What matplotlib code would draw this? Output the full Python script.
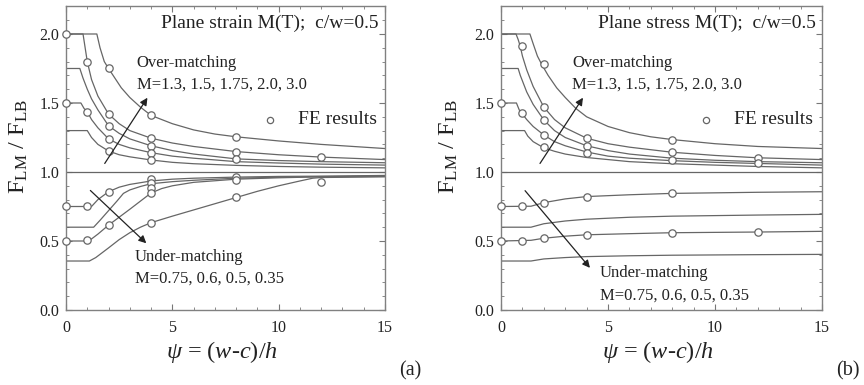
import matplotlib
matplotlib.use("Agg")
import matplotlib.pyplot as plt
from matplotlib.ticker import MultipleLocator

plt.rcParams['font.family'] = ['Liberation Serif', 'DejaVu Serif']
plt.rcParams['mathtext.fontset'] = 'custom'
plt.rcParams['mathtext.rm'] = 'Liberation Serif'
plt.rcParams['mathtext.it'] = 'Liberation Serif:italic'

# ---------------- (a) plane strain ----------------
strain_over_psi = [
    [0, 1.45, 1.6, 1.8, 2.0, 2.3, 2.6, 3.0, 3.5, 4, 5, 6, 7, 8, 10, 12, 15],
    [0, 0.8, 0.9, 1.0, 1.2, 1.5, 2.0, 2.5, 3, 4, 5, 6, 8, 10, 12, 15],
    [0, 0.65, 0.8, 1.0, 1.2, 1.5, 2, 2.5, 3, 4, 5, 6, 8, 10, 12, 15],
    [0, 0.7, 0.85, 1.0, 1.2, 1.5, 2, 2.5, 3, 4, 5, 6, 8, 10, 12, 15],
    [0, 1.0, 1.2, 1.5, 2, 2.5, 3, 4, 5, 6, 8, 10, 12, 15],
]
strain_over_F = [
    [2.0, 2.0, 1.90, 1.80, 1.75, 1.68, 1.61, 1.54, 1.47, 1.41, 1.35, 1.305, 1.275, 1.255, 1.225, 1.20, 1.17],
    [2.0, 2.0, 1.90, 1.80, 1.67, 1.55, 1.42, 1.35, 1.30, 1.245, 1.21, 1.185, 1.148, 1.125, 1.108, 1.09],
    [1.75, 1.75, 1.68, 1.60, 1.53, 1.45, 1.335, 1.28, 1.24, 1.19, 1.155, 1.13, 1.095, 1.083, 1.075, 1.067],
    [1.5, 1.5, 1.46, 1.437, 1.38, 1.32, 1.24, 1.20, 1.175, 1.14, 1.115, 1.10, 1.075, 1.065, 1.057, 1.05],
    [1.3, 1.3, 1.25, 1.20, 1.152, 1.125, 1.11, 1.087, 1.07, 1.06, 1.048, 1.04, 1.035, 1.03],
]
strain_under_psi = [
    [0, 1.2, 1.5, 2, 2.5, 3, 4, 5, 6, 8, 10, 12, 15],
    [0, 1.3, 1.6, 2, 2.4, 2.7, 3, 3.5, 4, 5, 6, 8, 10, 12, 15],
    [0, 1.0, 1.2, 1.5, 2, 3, 4, 4.5, 5, 6, 8, 10, 12, 15],
    [0, 1.1, 1.4, 2, 2.5, 3, 3.5, 4, 5, 6, 7, 8, 9, 10, 11, 11.6, 12, 15],
]
strain_under_F = [
    [0.75, 0.75, 0.80, 0.857, 0.89, 0.91, 0.935, 0.948, 0.955, 0.963, 0.968, 0.97, 0.975],
    [0.6, 0.6, 0.65, 0.72, 0.79, 0.845, 0.87, 0.895, 0.915, 0.93, 0.94, 0.955, 0.962, 0.967, 0.97],
    [0.5, 0.5, 0.515, 0.55, 0.615, 0.73, 0.848, 0.88, 0.90, 0.925, 0.948, 0.958, 0.965, 0.968],
    [0.355, 0.355, 0.38, 0.45, 0.51, 0.56, 0.60, 0.633, 0.68, 0.725, 0.77, 0.815, 0.86, 0.90, 0.935, 0.955, 0.96, 0.965],
]
strain_fe_psi = [0, 0, 1, 1, 2, 2, 2, 2, 2, 4, 4, 4, 4, 4, 8, 8, 8, 12,
                 0, 0, 1, 1, 2, 2, 4, 4, 4, 4, 4, 8, 8, 8, 12]
strain_fe_F = [2.0, 1.5, 1.80, 1.437, 1.755, 1.42, 1.333, 1.237, 1.152, 1.41, 1.244, 1.19, 1.14, 1.087,
               1.256, 1.147, 1.094, 1.106,
               0.75, 0.5, 0.75, 0.507, 0.857, 0.616, 0.95, 0.922, 0.882, 0.845, 0.633, 0.966, 0.942, 0.821, 0.93]

# ---------------- (b) plane stress ----------------
stress_over_psi = [
    [0, 1.35, 1.5, 1.7, 1.9, 2.2, 2.6, 3, 3.5, 4, 5, 6, 7, 8, 10, 12, 15],
    [0, 0.7, 0.8, 0.9, 1.0, 1.2, 1.5, 2, 2.5, 3, 4, 5, 6, 8, 10, 12, 15],
    [0, 0.8, 0.9, 1.0, 1.2, 1.5, 2, 2.5, 3, 4, 5, 6, 8, 10, 12, 15],
    [0, 0.72, 0.85, 1.0, 1.2, 1.5, 2, 2.5, 3, 4, 5, 6, 8, 10, 12, 15],
    [0, 1.1, 1.25, 1.5, 2, 2.5, 3, 4, 5, 6, 8, 10, 12, 15],
]
stress_over_F = [
    [2.0, 2.0, 1.93, 1.84, 1.78, 1.70, 1.61, 1.54, 1.46, 1.40, 1.33, 1.285, 1.255, 1.235, 1.205, 1.185, 1.17],
    [2.0, 2.0, 1.96, 1.91, 1.84, 1.74, 1.62, 1.47, 1.38, 1.32, 1.245, 1.205, 1.18, 1.143, 1.12, 1.103, 1.09],
    [1.75, 1.75, 1.70, 1.66, 1.58, 1.49, 1.377, 1.30, 1.25, 1.19, 1.155, 1.13, 1.10, 1.085, 1.075, 1.067],
    [1.5, 1.5, 1.45, 1.42, 1.38, 1.33, 1.268, 1.22, 1.19, 1.145, 1.115, 1.10, 1.082, 1.07, 1.062, 1.05],
    [1.3, 1.3, 1.26, 1.22, 1.175, 1.15, 1.13, 1.105, 1.09, 1.075, 1.06, 1.05, 1.04, 1.03],
]
stress_under_psi = [
    [0, 1.4, 2, 3, 4, 6, 8, 12, 15],
    [0, 1.4, 2, 3, 4, 6, 8, 12, 15],
    [0, 1.4, 2, 3, 4, 6, 8, 12, 15],
    [0, 1.4, 2, 3, 4, 6, 8, 12, 15],
]
stress_under_F = [
    [0.75, 0.752, 0.778, 0.805, 0.822, 0.835, 0.845, 0.853, 0.857],
    [0.6, 0.6, 0.625, 0.645, 0.658, 0.672, 0.68, 0.688, 0.693],
    [0.5, 0.505, 0.52, 0.535, 0.545, 0.553, 0.56, 0.565, 0.57],
    [0.355, 0.355, 0.37, 0.38, 0.387, 0.393, 0.397, 0.401, 0.403],
]
stress_fe_psi = [0, 1, 1, 2, 2, 2, 2, 2, 4, 4, 4, 8, 8, 8, 12, 12,
                 0, 0, 1, 1, 2, 2, 4, 4, 8, 8, 12]
stress_fe_F = [1.5, 1.91, 1.43, 1.78, 1.47, 1.377, 1.268, 1.18, 1.244, 1.19, 1.14, 1.232, 1.145, 1.085,
               1.105, 1.065,
               0.75, 0.5, 0.75, 0.5, 0.778, 0.52, 0.821, 0.543, 0.845, 0.56, 0.563]

line_c = '#666666'
text_c = '#222222'


def draw_panel(ax, over_x, over_y, under_x, under_y, fe_x, fe_y, title, tag,
               under_arrow, under_text_xy, label_x):
    for xs, ys in zip(over_x + under_x, over_y + under_y):
        ax.plot(xs, ys, color=line_c, lw=0.9)
    ax.axhline(1.0, color=line_c, lw=0.9)
    ax.plot(fe_x, fe_y, 'o', ms=5.3, mfc='white', mec=line_c, mew=0.9, clip_on=False, zorder=3)

    ax.set_xlim(0, 15)
    ax.set_ylim(0, 2.2)
    ax.xaxis.set_major_locator(MultipleLocator(5))
    ax.xaxis.set_minor_locator(MultipleLocator(1))
    ax.yaxis.set_major_locator(MultipleLocator(0.5))
    ax.yaxis.set_minor_locator(MultipleLocator(0.1))
    ax.yaxis.set_major_formatter(plt.FormatStrFormatter('%.1f'))
    ax.tick_params(which='both', direction='in', top=True, right=True,
                   colors='#777777', labelcolor=text_c, labelsize=11.5)
    ax.tick_params(which='major', length=4)
    ax.tick_params(which='minor', length=2.5)
    ax.tick_params(axis='x', pad=7)
    ax.tick_params(axis='y', pad=5)
    for s in ax.spines.values():
        s.set_color('#808080')
        s.set_linewidth(1.0)

    ax.set_ylabel(r'F$_{\rm LM}$ / F$_{\rm LB}$', fontsize=17.5, color=text_c)
    ax.yaxis.set_label_coords(label_x, 0.54)
    ax.set_xlabel(r'$\psi$ = ($w$-$c$)/$h$', fontsize=17.5, color=text_c)
    ax.xaxis.set_label_coords(0.49, -0.097)

    ax.text(14.7, 2.08, title, ha='right', va='center', fontsize=14, color=text_c)
    ax.text(3.32, 1.79, 'Over-matching', ha='left', va='center', fontsize=12, color=text_c)
    ax.text(3.32, 1.63, 'M=1.3, 1.5, 1.75, 2.0, 3.0', ha='left', va='center', fontsize=12, color=text_c)
    ax.plot([9.6], [1.38], 'o', ms=4.5, mfc='white', mec=line_c, mew=0.9)
    ax.text(10.9, 1.38, 'FE results', ha='left', va='center', fontsize=14, color=text_c)

    ax.annotate('', xy=(3.9, 1.555), xytext=(1.75, 1.045),
                arrowprops=dict(arrowstyle='-|>', color=text_c, lw=0.9, mutation_scale=11))
    ax.annotate('', xy=under_arrow[1], xytext=under_arrow[0],
                arrowprops=dict(arrowstyle='-|>', color=text_c, lw=0.9, mutation_scale=11))
    ux, uy = under_text_xy
    ax.text(ux, uy, 'Under-matching', ha='left', va='center', fontsize=12, color=text_c)
    ax.text(ux, uy - 0.16, 'M=0.75, 0.6, 0.5, 0.35', ha='left', va='center', fontsize=12, color=text_c)

    ax.text(1.08, -0.2, tag, transform=ax.transAxes, ha='center', va='center',
            fontsize=14.5, color=text_c)


fig = plt.figure(figsize=(8.64, 3.85), dpi=100)
ax1 = fig.add_axes([0.0764, 0.1948, 0.3692, 0.7886])
ax2 = fig.add_axes([0.5799, 0.1948, 0.3715, 0.7886])

draw_panel(ax1, strain_over_psi, strain_over_F, strain_under_psi, strain_under_F,
           strain_fe_psi, strain_fe_F, 'Plane strain M(T);  c/w=0.5', '(a)',
           [(1.05, 0.88), (3.87, 0.47)], (3.24, 0.386), -0.113)
draw_panel(ax2, stress_over_psi, stress_over_F, stress_under_psi, stress_under_F,
           stress_fe_psi, stress_fe_F, 'Plane stress M(T);  c/w=0.5', '(b)',
           [(1.04, 0.88), (4.24, 0.29)], (4.63, 0.266), -0.128)

fig.savefig('out.png', dpi=100)
